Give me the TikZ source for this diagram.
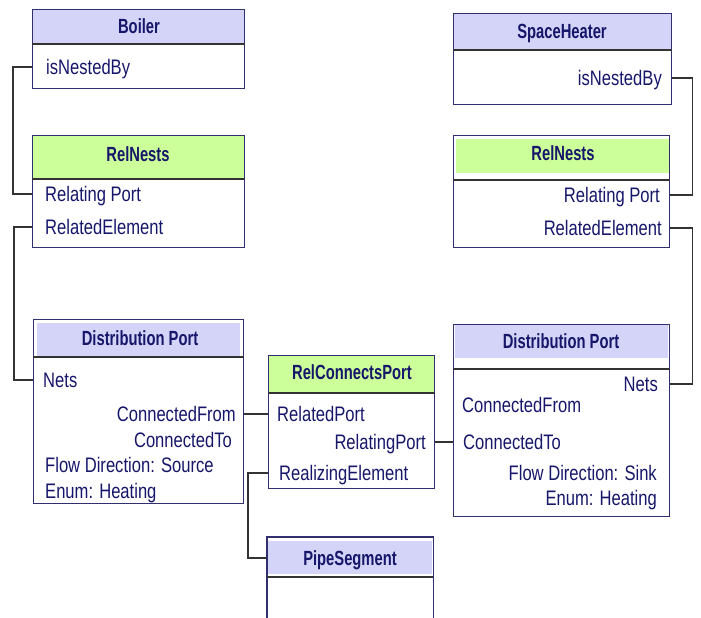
\documentclass[tikz,border=0pt]{standalone}
\usepackage{fontspec}
\setmainfont{Liberation Sans}
\newfontfamily\attrfont{Liberation Sans}[FakeStretch=0.79]
\newfontfamily\hdrfont{Liberation Sans}[FakeStretch=0.72]
\usetikzlibrary{positioning}
\pgfdeclarelayer{background}
\pgfsetlayers{background,main}
\definecolor{ink}{HTML}{16166A}
\definecolor{boxline}{HTML}{30306E}
\definecolor{wire}{HTML}{333333}
\definecolor{lav}{HTML}{D4D4F8}
\definecolor{lime}{HTML}{CCFF99}

\begin{document}
\begin{tikzpicture}[x=1pt,y=-1pt,
    cls/.style={draw=boxline,line width=1.1pt,inner sep=0pt,anchor=north west},
    open/.style={inner sep=0pt,anchor=north west},
    sep/.style={draw=wire,line width=1.1pt},
    hdr/.style={font=\hdrfont\bfseries\fontsize{20.5}{24}\selectfont,text=ink,
                inner sep=0pt,text height=14.7pt,text depth=0pt},
    attr/.style={font=\attrfont\fontsize{21}{24}\selectfont,text=ink,
                 inner sep=0pt,text height=15pt,text depth=0pt,anchor=west},
    rattr/.style={attr,anchor=east},
    link/.style={draw=wire,line width=1.1pt}]
   \useasboundingbox (0,0) rectangle (701,618);
   % boxes
   \node[cls,minimum width=212pt,minimum height=79pt]  (boiler) at (32,9)   {};
   \node[cls,minimum width=212pt,minimum height=112pt] (rnL)    at (32,135) {};
   \node[cls,minimum width=210pt,minimum height=184pt] (dpL)    at (33,319) {};
   \node[cls,minimum width=166pt,minimum height=133pt] (rcp)    at (268,355) {};
   \node[open,minimum width=166pt,minimum height=81pt] (pipe)   at (267,537) {};
   \node[cls,minimum width=218pt,minimum height=91pt]  (heater) at (453,13) {};
   \node[cls,minimum width=216pt,minimum height=112pt] (rnR)    at (453,135) {};
   \node[cls,minimum width=216pt,minimum height=192pt] (dpR)    at (453,324) {};
   \draw[draw=boxline,line width=1.1pt] (pipe.south west) |- (pipe.north east) -- (pipe.south east);

   % header fills
   \begin{pgfonlayer}{background}
     \fill[lav]  (boiler.north west) rectangle (244,44);
     \fill[lime] (rnL.north west) rectangle (244,178);
     \fill[lav]  (37,323) rectangle (240,356);
     \fill[lime] (rcp.north west) rectangle (434,393);
     \fill[lav]  (268,541) rectangle (432,574);
     \fill[lav]  (heater.north west) rectangle (671,50);
     \fill[lime] (456,139) rectangle (669,173);
     \fill[lav]  (455,324) rectangle (668,358);
   \end{pgfonlayer}
   \draw[sep] (boiler.west |- 0,44) -- (boiler.east |- 0,44);
   \draw[sep] (rnL.west |- 0,179) -- (rnL.east |- 0,179);
   \draw[sep] (dpL.west |- 0,357) -- (dpL.east |- 0,357);
   \draw[sep] (rcp.west |- 0,393) -- (rcp.east |- 0,393);
   \draw[sep] (pipe.west |- 0,577) -- (pipe.east |- 0,577);
   \draw[sep] (heater.west |- 0,50) -- (heater.east |- 0,50);
   \draw[sep] (rnR.west |- 0,180) -- (rnR.east |- 0,180);
   \draw[sep] (dpR.west |- 0,369) -- (dpR.east |- 0,369);

   % left column
   \node[hdr]  (boilerHd) at (139,26)  {Boiler};
   \node[attr] (bNest)    at (46,67)   {isNestedBy};
   \node[hdr]  (rnLHd)    at (138,154) {RelNests};
   \node[attr] (rnLport)  at (45,194)  {Relating Port};
   \node[attr] (rnLelem)  at (45,227)  {RelatedElement};
   \node[hdr]  (dpLHd)    at (140,338) {Distribution Port};
   \node[attr] (dpLnets)  at (43,380)  {Nets};
   \node[rattr](dpLfrom)  at (236,414) {ConnectedFrom};
   \node[rattr](dpLto)    at (232,440) {ConnectedTo};
   \node[attr] (dpLflow)  at (45,465)  {Flow Direction: Source};
   \node[attr] (dpLenum)  at (45,491)  {Enum: Heating};

   % middle column
   \node[hdr]  (rcpHd)    at (352,372) {RelConnectsPort};
   \node[attr] (rcpRed)   at (277,414) {RelatedPort};
   \node[rattr](rcpRing)  at (426,442) {RelatingPort};
   \node[attr] (rcpReal)  at (279,473) {RealizingElement};
   \node[hdr]  (pipeHd)   at (350,558) {PipeSegment};

   % right column
   \node[hdr]  (heaterHd) at (562,31)  {SpaceHeater};
   \node[rattr](hNest)    at (662,78)  {isNestedBy};
   \node[hdr]  (rnRHd)    at (563,153) {RelNests};
   \node[rattr](rnRport)  at (660,195) {Relating Port};
   \node[rattr](rnRelem)  at (662,228) {RelatedElement};
   \node[hdr]  (dpRHd)    at (561,341) {Distribution Port};
   \node[rattr](dpRnets)  at (658,384) {Nets};
   \node[attr] (dpRfrom)  at (462,405) {ConnectedFrom};
   \node[attr] (dpRto)    at (463,442) {ConnectedTo};
   \node[rattr](dpRflow)  at (657,473) {Flow Direction: Sink};
   \node[rattr](dpRenum)  at (657,498) {Enum: Heating};

   % connectors
   \draw[link] (boiler.west |- bNest) -- ++(-19,0) |- (rnL.west |- rnLport);
   \draw[link] (rnL.west |- rnLelem) -- ++(-18,0) |- (dpL.west |- dpLnets);
   \draw[link] (dpL.east |- dpLfrom) -- (rcp.west |- rcpRed);
   \draw[link] (rcp.east |- rcpRing) -- (dpR.west |- dpRto);
   \draw[link] (rcp.west |- rcpReal) -- ++(-20,0) |- (pipe.west |- pipeHd);
   \draw[link] (heater.east |- hNest) -- ++(20,0) |- (rnR.east |- rnRport);
   \draw[link] (rnR.east |- rnRelem) -- ++(22,0) |- (dpR.east |- dpRnets);
\end{tikzpicture}
\end{document}
